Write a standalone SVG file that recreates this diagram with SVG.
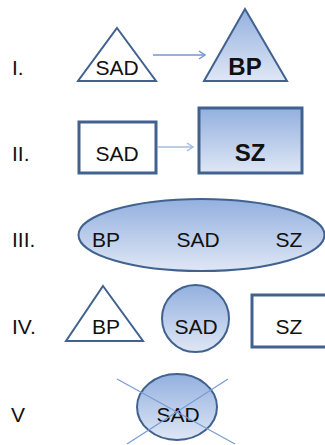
<svg xmlns="http://www.w3.org/2000/svg" width="325" height="445" viewBox="0 0 325 445">
<style>
.lbl{font-family:"Liberation Sans",Arial,sans-serif;font-size:21px;fill:#111}
.t{font-family:"Liberation Sans",Arial,sans-serif;font-size:21px;fill:#111;text-anchor:middle}
.b{font-weight:bold;font-size:24px}
.sh{stroke:#41628f;stroke-width:2}
.thick{stroke-width:3}
.white{fill:#fff}
.grad{fill:url(#g)}
.arr{fill:none;stroke-width:1.5}
</style>
<defs>
<linearGradient id="g" x1="0" y1="0" x2="0" y2="1">
<stop offset="0" stop-color="#93b0df"/>
<stop offset="1" stop-color="#dfe7f5"/>
</linearGradient>
<marker id="ah" markerWidth="10" markerHeight="10" refX="7" refY="5" orient="auto" markerUnits="userSpaceOnUse">
<path d="M1,1 L7,5 L1,9" fill="none" stroke="context-stroke" stroke-width="1.5"/>
</marker>
</defs>
<g id="labels">
<text class="lbl" x="12" y="75">I.</text>
<text class="lbl" x="12" y="161">II.</text>
<text class="lbl" x="12" y="247">III.</text>
<text class="lbl" x="12" y="334">IV.</text>
<text class="lbl" x="11" y="422">V</text>
</g>
<g id="connectors">
<line class="arr" x1="153" y1="55" x2="205" y2="55" stroke="#7398cf" marker-end="url(#ah)"/>
<line class="arr" x1="158" y1="147" x2="193" y2="147" stroke="#a5bcdf" stroke-width="2" marker-end="url(#ah)"/>
</g>
<g id="n1-sad">
<polygon class="sh white" points="117,28 156,81 78,81"/>
<text class="t" x="117" y="75" font-size="20">SAD</text>
</g>
<g id="n1-bp">
<polygon class="sh grad" points="245,9 287,81 204,81"/>
<text class="t b" x="245" y="75">BP</text>
</g>
<g id="n2-sad">
<rect class="sh thick white" x="79" y="122" width="77" height="51"/>
<text class="t" x="117" y="161">SAD</text>
</g>
<g id="n2-sz">
<rect class="sh thick grad" x="199" y="108" width="103" height="65"/>
<text class="t b" x="250" y="161">SZ</text>
</g>
<g id="n3-ellipse">
<ellipse class="sh grad" cx="201.5" cy="235" rx="123" ry="36"/>
<text class="t" x="106" y="247" font-size="22">BP</text>
<text class="t" x="198" y="247" font-size="23">SAD</text>
<text class="t" x="289" y="247" font-size="22">SZ</text>
</g>
<g id="n4-bp">
<polygon class="sh white" points="103,286 143,341 66,341"/>
<text class="t" x="106" y="334" font-size="22">BP</text>
</g>
<g id="n4-sad">
<circle class="sh grad" cx="195.5" cy="318.5" r="33.5"/>
<text class="t" x="196" y="334">SAD</text>
</g>
<g id="n4-sz">
<rect class="sh thick white" x="252" y="295" width="80" height="52"/>
<text class="t" x="289" y="334">SZ</text>
</g>
<g id="n5-sad">
<ellipse class="sh grad" cx="177" cy="407" rx="40" ry="33"/>
<text class="t" x="178" y="422" font-size="23">SAD</text>
<line x1="117" y1="379" x2="235" y2="444" stroke="#7a9dd0" stroke-width="1.3"/>
<line x1="228" y1="379" x2="127" y2="444" stroke="#7a9dd0" stroke-width="1.3"/>
</g>
</svg>
